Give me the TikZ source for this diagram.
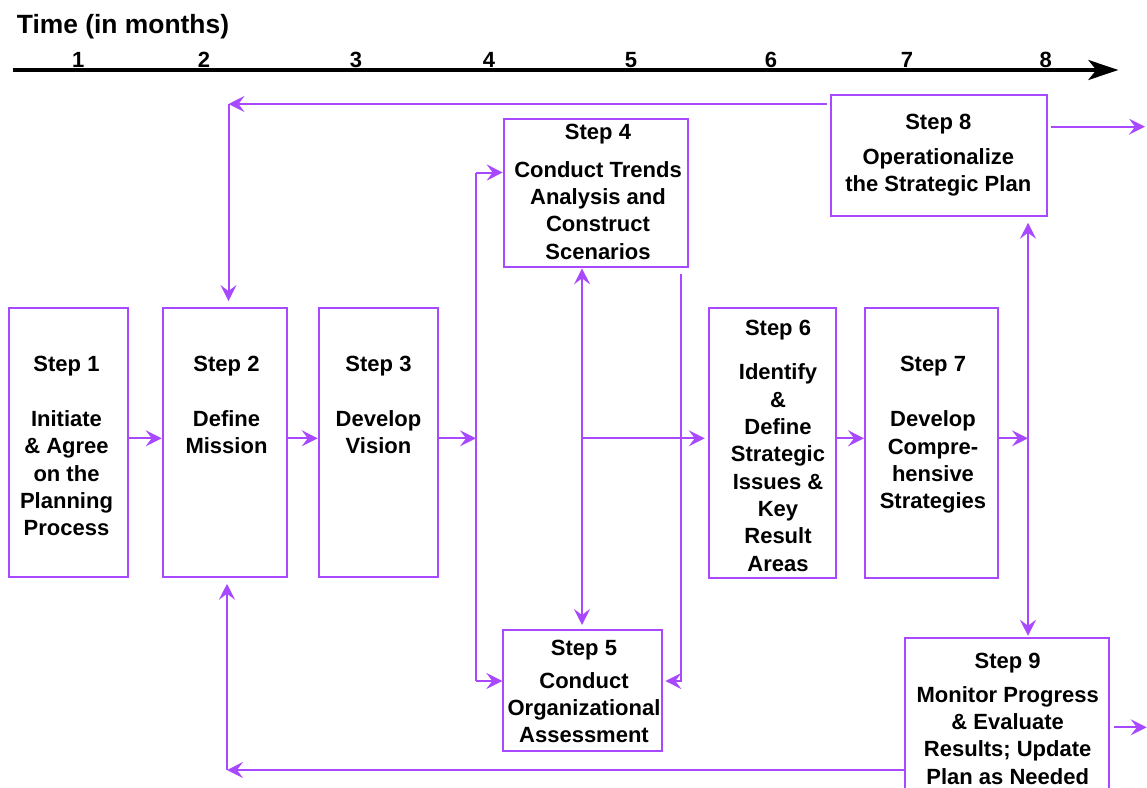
\documentclass[tikz,border=0pt]{standalone}
\usepackage{fontspec}
\setmainfont{Liberation Sans}
\usetikzlibrary{arrows.meta}
\definecolor{pur}{RGB}{168,72,255}
\begin{document}
\begin{tikzpicture}[x=1pt,y=-1pt,
  box/.style={draw=pur, line width=2pt, inner sep=0pt},
  txt/.style={font=\fontsize{22}{27.3}\selectfont\bfseries, align=center, inner sep=0pt, anchor=north},
  num/.style={font=\fontsize{22}{26}\selectfont\bfseries, inner sep=0pt, anchor=base},
  conn/.style={draw=pur, line width=2pt, -{Stealth[length=16pt,width=16pt,inset=6pt]}},
  dconn/.style={draw=pur, line width=2pt, {Stealth[length=16pt,width=16pt,inset=6pt]}-{Stealth[length=16pt,width=16pt,inset=6pt]}},
  wire/.style={draw=pur, line width=2pt},
  timeline/.style={draw=black, line width=3.5pt, -{Stealth[length=30pt,width=20pt,inset=8pt]}}
]
\useasboundingbox (0,0) rectangle (1147,787);
\clip (0,0) rectangle (1147,787);

% title and time axis
\node[font=\fontsize{26.4}{30}\selectfont\bfseries, inner sep=0pt, anchor=base west] (title) at (16.7,33) {Time (in months)};
\coordinate (ta) at (12.7,70);
\coordinate (tb) at (1118.3,70);
\draw[timeline] (ta) -- (tb);
\node[num] (n1) at (78.3,67) {1};
\node[num] (n2) at (204,67) {2};
\node[num] (n3) at (356,67) {3};
\node[num] (n4) at (489,67) {4};
\node[num] (n5) at (631,67) {5};
\node[num] (n6) at (771,67) {6};
\node[num] (n7) at (907,67) {7};
\node[num] (n8) at (1045.7,67) {8};

% boxes
\node[box, minimum width=119.3pt, minimum height=269.3pt] (s1) at (68.4,442.7) {};
\node[box, minimum width=124.6pt, minimum height=269.3pt] (s2) at (225,442.7) {};
\node[box, minimum width=119pt, minimum height=269.3pt] (s3) at (378.3,442.7) {};
\node[box, minimum width=184.6pt, minimum height=148.6pt] (s4) at (596,193) {};
\node[box, minimum width=159pt, minimum height=121pt] (s5) at (582.8,690.5) {};
\node[box, minimum width=127.3pt, minimum height=269.7pt] (s6) at (772.4,442.9) {};
\node[box, minimum width=132.7pt, minimum height=269.7pt] (s7) at (931.4,442.9) {};
\node[box, minimum width=216pt, minimum height=121.3pt] (s8) at (938.7,155.4) {};
\node[box, minimum width=203.7pt, minimum height=161.7pt] (s9) at (1006.9,719.2) {};

% texts
\node[txt] (l1) at (66.5,356) {Step 1\\[27.7pt]Initiate\\\& Agree\\on the\\Planning\\Process};
\node[txt] (l2) at (226.5,356) {Step 2\\[27.7pt]Define\\Mission};
\node[txt] (l3) at (378.5,356) {Step 3\\[27.7pt]Develop\\Vision};
\node[txt] (l4) at (598,123.6) {Step 4\\[10.7pt]Conduct Trends\\Analysis and\\Construct\\Scenarios};
\node[txt] (l5) at (584,639.6) {Step 5\\[5.7pt]Conduct\\Organizational\\Assessment};
\node[txt] (l6) at (778,319.7) {Step 6\\[17.4pt]Identify\\\&\\Define\\Strategic\\Issues \&\\Key\\Result\\Areas};
\node[txt] (l7) at (933,356.4) {Step 7\\[27.7pt]Develop\\Compre-\\hensive\\Strategies};
\node[txt] (l8) at (938.3,114.4) {Step 8\\[7.2pt]Operationalize\\the Strategic Plan};
\node[txt] (l9) at (1007.7,652.7) {Step 9\\[6.7pt]Monitor Progress\\\& Evaluate\\Results; Update\\Plan as Needed};

% helper coordinates
\coordinate (r) at (0,438.3);
\coordinate (bus1t) at (476,172.5);
\coordinate (bus1b) at (476,681);
\coordinate (m) at (582,438.3);
\coordinate (rt) at (681,274.3);
\coordinate (rb) at (681,681);
\coordinate (bus2) at (1028,438.3);
\coordinate (topL) at (826.7,104);
\coordinate (topC) at (228.5,104);
\coordinate (botC) at (227,770);
\coordinate (o8) at (1145,126.7);
\coordinate (o9) at (1146.7,727.3);

% connectors
\draw[conn] (s1.east |- r) -- (s2.west |- r);
\draw[conn] (s2.east |- r) -- (s3.west |- r);
\draw[conn] (s3.east |- r) -- (bus1t |- r);
\draw[wire] (bus1t) -- (bus1b);
\draw[conn] (bus1t) -- (s4.west |- bus1t);
\draw[conn] (bus1b) -- (s5.west |- bus1b);
\draw[dconn, shorten >=4pt] (m |- s4.south) -- (m |- s5.north);
\draw[conn, shorten >=3pt] (m) -- (s6.west |- m);
\draw[conn, shorten >=2pt] (rt) -- (rb) -- (s5.east |- rb);
\draw[conn] (s6.east |- r) -- (s7.west |- r);
\draw[conn] (s7.east |- r) -- (bus2);
\draw[dconn, shorten <=5.7pt, shorten >=1.6pt] (bus2 |- s8.south) -- (bus2 |- s9.north);
\draw[conn] ([xshift=3pt]s8.east |- o8) -- (o8);
\draw[conn] (topL) -- (topC);
\draw[conn, shorten >=6pt] (topC) -- (topC |- s2.north);
\draw[conn] (s9.west |- botC) -- (botC);
\draw[conn, shorten >=5.4pt] (botC) -- (botC |- s2.south);
\draw[conn] ([xshift=4pt]s9.east |- o9) -- (o9);
\end{tikzpicture}
\end{document}
